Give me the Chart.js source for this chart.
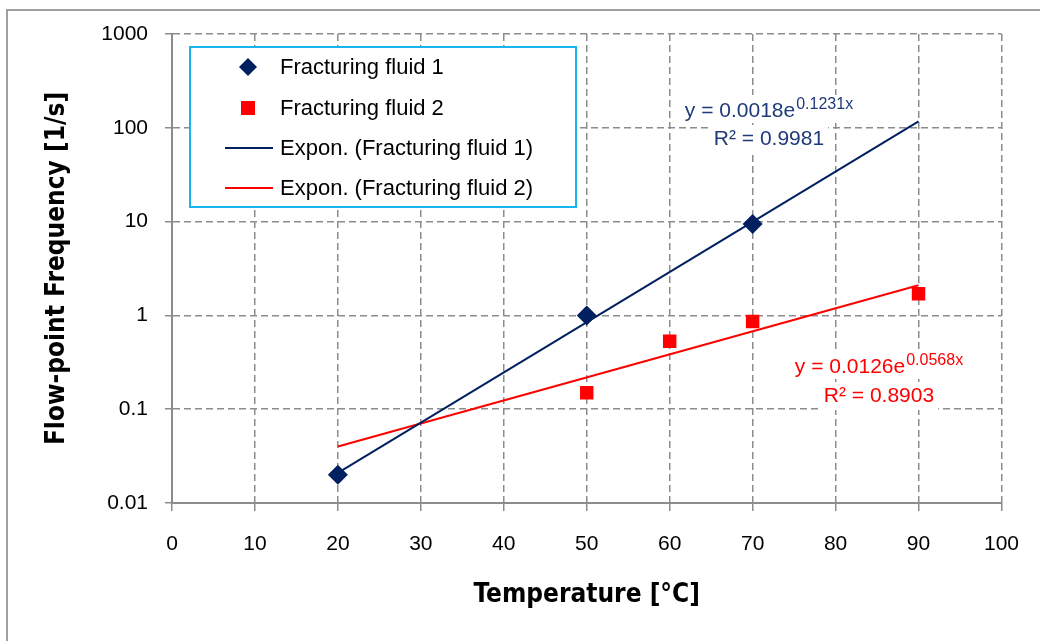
<!DOCTYPE html>
<html>
<head>
<meta charset="utf-8">
<script src="https://cdn.jsdelivr.net/npm/chart.js@4.4.1/dist/chart.umd.min.js"></script>
<style>
  html, body { margin: 0; padding: 0; background: #fff; }
</style>
</head>
<body>
<canvas id="chart" width="1040" height="641"></canvas>
<script>
// measured values
const fluid1Temps = [20, 50, 70];
const fluid1Freq = [0.02, 1.0, 9.4];
const fluid2Temps = [50, 60, 70, 90];
const fluid2Freq = [0.15, 0.53, 0.86, 1.7];

// trendline end points (exponential fit, straight on log axis)
const trendTemps = [20, 90];
const trend1Freq = [0.021, 117];
const trend2Freq = [0.040, 2.1];

const yTickValues = [0.01, 0.1, 1, 10, 100, 1000];
const seriesLabels = [
  'Fracturing fluid 1',
  'Fracturing fluid 2',
  'Expon. (Fracturing fluid 1)',
  'Expon. (Fracturing fluid 2)'
];

const NAVY = '#002060';
const NAVY_TEXT = '#1f3a78';
const RED = '#ff0000';
const GRID = '#8c8c8c';
const FONT = "'Liberation Sans', Arial, sans-serif";
const TITLE_FONT = "'Liberation Sans Narrow', 'DejaVu Sans Condensed', sans-serif";

const equations = [
  { base: 'y = 0.0018e', exp: '0.1231x', r2: 'R² = 0.9981', color: NAVY_TEXT, cx: 769, y1: 117, y2: 145 },
  { base: 'y = 0.0126e', exp: '0.0568x', r2: 'R² = 0.8903', color: RED, cx: 879, y1: 373, y2: 402 }
];

const toPoints = (xs, ys) => xs.map((x, i) => ({ x: x, y: ys[i] }));

const frame = {
  id: 'frame',
  beforeDraw(chart) {
    const ctx = chart.ctx;
    ctx.save();
    ctx.fillStyle = '#fff';
    ctx.fillRect(0, 0, chart.width, chart.height);
    ctx.strokeStyle = '#a0a0a0';
    ctx.lineWidth = 2;
    ctx.strokeRect(7, 10, chart.width + 20, chart.height + 20);
    ctx.restore();
  }
};

const equationLabels = {
  id: 'equationLabels',
  beforeDatasetsDraw(chart) {
    const ctx = chart.ctx;
    ctx.save();
    ctx.textBaseline = 'alphabetic';
    equations.forEach(eq => {
      ctx.font = '21px ' + FONT;
      const wBase = ctx.measureText(eq.base).width;
      const wR2 = ctx.measureText(eq.r2).width;
      ctx.font = '16px ' + FONT;
      const wExp = ctx.measureText(eq.exp).width;
      const w1 = wBase + wExp + 1;
      const x1 = eq.cx - w1 / 2;
      const x2 = eq.cx - wR2 / 2;

      ctx.fillStyle = '#fff';
      ctx.fillRect(x1 - 4, eq.y1 - 22, w1 + 8, 28);
      ctx.fillRect(x2 - 4, eq.y2 - 20, wR2 + 8, 28);

      ctx.fillStyle = eq.color;
      ctx.textAlign = 'left';
      ctx.font = '21px ' + FONT;
      ctx.fillText(eq.base, x1, eq.y1);
      ctx.fillText(eq.r2, x2, eq.y2);
      ctx.font = '16px ' + FONT;
      ctx.fillText(eq.exp, x1 + wBase + 1, eq.y1 - 8);
    });
    ctx.restore();
  }
};

const boxLegend = {
  id: 'boxLegend',
  afterDraw(chart) {
    const ctx = chart.ctx;
    const left = 190, top = 47, width = 386, height = 160;
    ctx.save();
    ctx.fillStyle = '#fff';
    ctx.fillRect(left, top, width, height);
    ctx.strokeStyle = '#19b4ee';
    ctx.lineWidth = 2;
    ctx.strokeRect(left, top, width, height);

    const rows = [67, 108, 148, 188];
    const mx = 248;
    chart.data.datasets.forEach((ds, i) => {
      const y = rows[i];
      if (ds.showLine) {
        ctx.strokeStyle = ds.borderColor;
        ctx.lineWidth = 2;
        ctx.beginPath();
        ctx.moveTo(225, y);
        ctx.lineTo(273, y);
        ctx.stroke();
      } else if (ds.pointStyle === 'rectRot') {
        ctx.fillStyle = ds.backgroundColor;
        ctx.beginPath();
        ctx.moveTo(mx, y - 9);
        ctx.lineTo(mx + 9, y);
        ctx.lineTo(mx, y + 9);
        ctx.lineTo(mx - 9, y);
        ctx.closePath();
        ctx.fill();
      } else {
        ctx.fillStyle = ds.backgroundColor;
        ctx.fillRect(mx - 7, y - 7, 14, 14);
      }
      ctx.fillStyle = '#000';
      ctx.font = '22px ' + FONT;
      ctx.textAlign = 'left';
      ctx.textBaseline = 'middle';
      ctx.fillText(ds.label, 280, y + 1);
    });
    ctx.restore();
  }
};

new Chart(document.getElementById('chart').getContext('2d'), {
  type: 'scatter',
  data: {
    datasets: [
      {
        label: seriesLabels[0],
        data: toPoints(fluid1Temps, fluid1Freq),
        pointStyle: 'rectRot',
        pointRadius: 10,
        backgroundColor: NAVY,
        borderWidth: 0,
        order: 0
      },
      {
        label: seriesLabels[1],
        data: toPoints(fluid2Temps, fluid2Freq),
        pointStyle: 'rect',
        pointRadius: 9.5,
        backgroundColor: RED,
        borderWidth: 0,
        order: 0
      },
      {
        label: seriesLabels[2],
        data: toPoints(trendTemps, trend1Freq),
        showLine: true,
        pointRadius: 0,
        borderColor: NAVY,
        borderWidth: 2,
        order: 1
      },
      {
        label: seriesLabels[3],
        data: toPoints(trendTemps, trend2Freq),
        showLine: true,
        pointRadius: 0,
        borderColor: RED,
        borderWidth: 2,
        order: 1
      }
    ]
  },
  options: {
    responsive: false,
    animation: false,
    events: [],
    layout: { padding: { left: 0, top: 34, right: 35, bottom: 0 } },
    scales: {
      x: {
        type: 'linear',
        min: 0,
        max: 100,
        afterFit: scale => { scale.height = 138; },
        ticks: {
          stepSize: 10,
          padding: 21,
          color: '#000',
          font: { family: FONT, size: 21 }
        },
        grid: { color: GRID, lineWidth: 1.5, tickLength: 8, tickColor: GRID },
        border: { color: GRID, width: 2, dash: [7, 4] },
        title: {
          display: true,
          text: 'Temperature [°C]',
          color: '#000',
          font: { family: TITLE_FONT, size: 26, weight: 'bold' },
          padding: { top: 0, bottom: 30 }
        }
      },
      y: {
        type: 'logarithmic',
        min: 0.01,
        max: 1000,
        afterFit: scale => { scale.width = 172; },
        afterBuildTicks: scale => { scale.ticks = yTickValues.map(v => ({ value: v })); },
        ticks: {
          padding: 17,
          color: '#000',
          font: { family: FONT, size: 21 },
          callback: v => String(v)
        },
        grid: { color: GRID, lineWidth: 1.5, tickLength: 7, tickColor: GRID },
        border: { color: GRID, width: 2, dash: [7, 4] },
        title: {
          display: true,
          text: 'Flow-point Frequency [1/s]',
          color: '#000',
          font: { family: TITLE_FONT, size: 26, weight: 'bold' },
          padding: { top: 42, bottom: 0 }
        }
      }
    },
    plugins: {
      legend: { display: false },
      tooltip: { enabled: false }
    }
  },
  plugins: [frame, equationLabels, boxLegend]
});
</script>
</body>
</html>
